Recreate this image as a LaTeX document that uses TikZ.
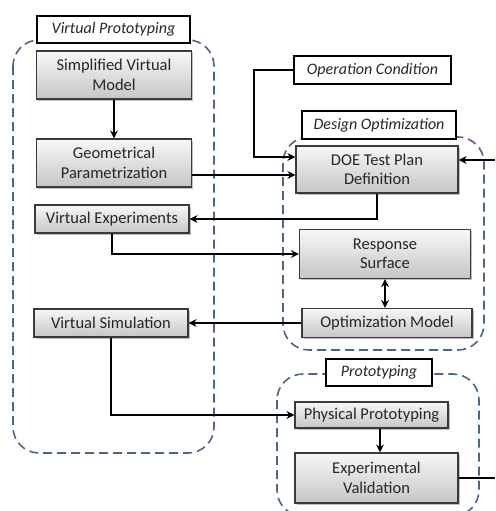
\documentclass[tikz,border=0pt]{standalone}
\usepackage{fontspec}
\setmainfont{Carlito}
\usetikzlibrary{arrows.meta,shadows}
\definecolor{dashblue}{HTML}{4A6689}
\definecolor{txt}{HTML}{262626}
\definecolor{boxline}{HTML}{3A3A3A}
\tikzset{
  box/.style={draw=boxline, line width=1.2pt, top color=gray!6, bottom color=gray!45,
    align=center, text=txt, inner sep=1pt,
    font=\fontsize{16.5}{19.5}\selectfont,
    drop shadow={shadow xshift=1.5pt, shadow yshift=-1.5pt, opacity=0.25, fill=black}},
  lbl/.style={draw=black, line width=1.2pt, fill=white, align=center, text=txt, inner sep=1pt,
    font=\fontsize{16}{19}\selectfont\itshape},
  group/.style={draw=dashblue, line width=1.6pt, dash pattern=on 9pt off 5pt, rounded corners=26pt},
  tip/.tip={Stealth[length=8pt,width=8pt]},
  conn/.style={draw=black, line width=1.8pt, -tip},
  plain/.style={draw=black, line width=1.8pt}
}
\begin{document}
\begin{tikzpicture}[x=1pt,y=-1pt]
\useasboundingbox (0,0) rectangle (495,511);
\clip (0,0) rectangle (495,511);
% containers
\draw[group] (13,40) rectangle (214,453);
\draw[group] (283,137) rectangle (484,350);
\draw[group] (277,374) rectangle (479,516);
% labels
\node[lbl, minimum width=153pt, minimum height=27pt] (lvp) at (113.5,29.5) {Virtual Prototyping};
\node[lbl, minimum width=157pt, minimum height=28pt] (oc) at (372.5,70) {Operation Condition};
\node[lbl, minimum width=154pt, minimum height=28pt] (ldo) at (379,125) {Design Optimization};
\node[lbl, minimum width=106pt, minimum height=27pt] (lpr) at (379,372.5) {Prototyping};
% boxes
\node[box, minimum width=155pt, minimum height=48pt] (svm) at (114,75) {Simplified Virtual\\Model};
\node[box, minimum width=155pt, minimum height=48pt] (gp) at (114,163) {Geometrical\\Parametrization};
\node[box, minimum width=154pt, minimum height=28pt] (ve) at (112,219) {Virtual Experiments};
\node[box, minimum width=154pt, minimum height=28pt] (vs) at (111,323) {Virtual Simulation};
\node[box, minimum width=162pt, minimum height=47pt] (doe) at (377,169.5) {DOE Test Plan\\Definition};
\node[box, minimum width=171pt, minimum height=49pt] (rs) at (385,254) {Response\\Surface};
\node[box, minimum width=170pt, minimum height=29pt] (om) at (387,323) {Optimization Model};
\node[box, minimum width=153pt, minimum height=26pt] (pp) at (371.5,415) {Physical Prototyping};
\node[box, minimum width=163pt, minimum height=50pt] (ev) at (376.5,478) {Experimental\\Validation};
% free ends of the feedback loop (cut at the picture edge)
\coordinate (fbout) at (495,478);
\coordinate (fbin) at (495,160);
% connectors
\draw[conn] (svm.south) -- (gp.north);
\draw[conn] (oc.west) -| (254,157) -- (doe.west |- 0,157);
\draw[conn] (gp.east |- 0,175) -- (doe.west |- 0,175);
\draw[conn] (doe.south) |- (ve.east);
\draw[conn] (ve.south) |- (rs.west);
\draw[plain, tip-tip] (rs.south) -- (om.north -| rs.south);
\draw[conn] (om.west) -- (vs.east);
\draw[conn] (vs.south) |- (pp.west);
\draw[conn] (pp.south -| 380,0) -- (ev.north -| 380,0);
\draw[plain] (ev.east) -- (fbout);
\draw[conn] (fbin) -- (doe.east |- fbin);
\end{tikzpicture}
\end{document}
